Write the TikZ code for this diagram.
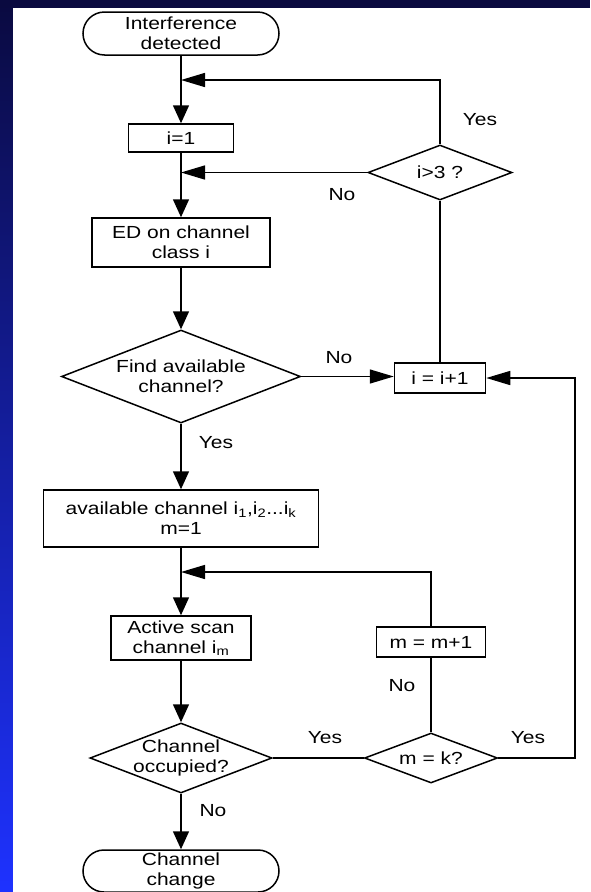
\documentclass[tikz,border=0pt]{standalone}
\usepackage{fontspec}
\setmainfont{Liberation Sans}[FakeStretch=1.2]
\usetikzlibrary{shapes.geometric,shapes.misc,arrows.meta}
\definecolor{navy}{RGB}{10,10,64}
\definecolor{brightblue}{RGB}{30,50,255}
\begin{document}
\begin{tikzpicture}[x=1pt,y=-1pt,
  font=\fontsize{17.5}{20}\selectfont,
  line width=1.5pt,
  box/.style={draw,rectangle,inner sep=0pt,align=center},
  term/.style={draw,rounded rectangle,inner sep=0pt,align=center},
  dia/.style={draw,diamond,inner sep=0pt},
  lbl/.style={inner sep=0pt,align=center},
  varrow/.style={-{Triangle[length=18pt,width=16pt]}},
  harrow/.style={-{Triangle[length=24pt,width=14pt]}}]
\useasboundingbox (0,0) rectangle (590,892);
% background
\shade[top color=navy, bottom color=brightblue] (0,0) rectangle (13,892);
\fill[navy] (0,0) rectangle (590,8);
\fill[white] (13,8) rectangle (590,892);

% main column
\node[term, minimum width=196pt, minimum height=43pt] (start) at (181,33.5) {Interference\\detected};
\node[box, minimum width=105pt, minimum height=28pt] (i1) at (181,138) {i=1};
\node[box, minimum width=178pt, minimum height=49pt] (ed) at (181,242.5) {ED on channel\\class i};
\node[dia, minimum width=239pt, minimum height=93pt] (find) at (181,376.5) {};
\node[lbl] (findt) at (find.center) {Find available\\channel?};
\node[box, minimum width=275pt, minimum height=57pt] (avail) at (181,518.5) {available channel i\textsubscript{1},i\textsubscript{2}...i\textsubscript{k}\\m=1};
\node[box, minimum width=140pt, minimum height=44pt] (scan) at (181,638) {Active scan\\channel i\textsubscript{m}};
\node[dia, minimum width=182pt, minimum height=70pt] (occ) at (181,758) {};
\node[lbl] (occt) at (occ.center) {Channel\\occupied?};
\node[term, minimum width=196pt, minimum height=42pt] (end) at (181,871) {Channel\\change};

% right column
\node[dia, minimum width=144pt, minimum height=55pt] (gt3) at (440,172.5) {};
\node[lbl] (gt3t) at (gt3.center) {i>3 ?};
\node[box, minimum width=91pt, minimum height=30pt] (inc) at (440,378) {i = i+1};
\node[dia, minimum width=133pt, minimum height=50pt] (mk) at (431,758) {};
\node[lbl] (mkt) at (mk.center) {m = k?};
\node[box, minimum width=109pt, minimum height=30pt] (mp1) at (431,642) {m = m+1};

% junctions
\coordinate (j1) at (181,80);
\coordinate (j2) at (181,172.5);
\coordinate (j3) at (181,572);
\coordinate (rc) at (575,758);

% connectors
\draw[varrow] (start.south) -- (i1.north);
\draw[harrow] (gt3.north) |- (j1);
\draw[varrow] (i1.south) -- (ed.north);
\draw[harrow] (gt3.west) -- (j2);
\draw[varrow] (ed.south) -- (find.north);
\draw[harrow] (find.east) -- (find.east -| inc.west);
\draw (gt3.south) -- (inc.north);
\draw[varrow] (find.south) -- (avail.north);
\draw[varrow] (avail.south) -- (scan.north);
\draw[harrow] (mp1.north) |- (j3);
\draw[varrow] (scan.south) -- (occ.north);
\draw (occ.east) -- (mk.west);
\draw (mk.north) -- (mp1.south);
\draw[harrow] (mk.east) -- (rc) |- (inc.east);
\draw[varrow] (occ.south) -- (end.north);

% labels
\node[lbl] (yes1) at (480,120) {Yes};
\node[lbl] (no1) at (342,195) {No};
\node[lbl] (no2) at (339,358) {No};
\node[lbl] (yes2) at (216,443) {Yes};
\node[lbl] (yes3) at (325,738) {Yes};
\node[lbl] (yes4) at (528,738) {Yes};
\node[lbl] (no3) at (402,686) {No};
\node[lbl] (no4) at (213,811) {No};
\end{tikzpicture}
\end{document}
